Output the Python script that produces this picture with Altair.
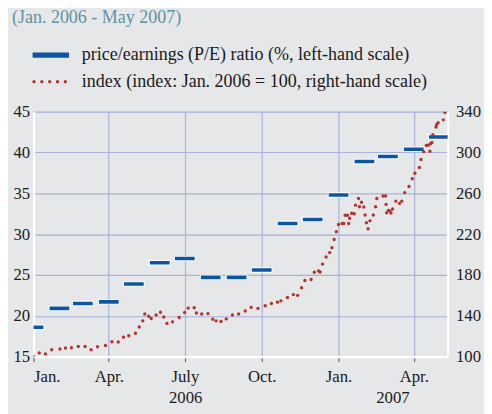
import altair as alt
import pandas as pd

# ---------------- data ----------------
subtitle = "(Jan. 2006 - May 2007)"
pe_label = "price/earnings (P/E) ratio (%, left-hand scale)"
idx_label = "index (index: Jan. 2006 = 100, right-hand scale)"

# days since 1 Jan 2006 (month starts) and monthly P/E ratio
pe_day = [0, 31, 59, 90, 120, 151, 181, 212, 243, 273, 304, 334, 365, 396, 424, 455, 485]
pe_ratio = [18.6, 20.9, 21.5, 21.7, 23.9, 26.5, 27.0, 24.7, 24.7, 25.6, 31.3, 31.8,
            34.8, 38.9, 39.5, 40.4, 41.9]

# index (Jan. 2006 = 100), days since 1 Jan 2006
index_day = [0, 6.8, 14.3, 21.7, 31.5, 38.2, 45.3, 53.5, 61.7, 68.8,
             76.6, 86.0, 93.8, 101.3, 107.6, 113.9, 122.0, 126.4, 130.7, 133.1,
             137.8, 140.8, 146.7, 151.9, 155.8, 159.6, 166.3, 174.2, 180.8, 185.1,
             192.2, 194.9, 201.2, 208.7, 214.5, 218.4, 224.3, 230.6, 238.0, 245.4,
             253.3, 260.4, 268.6, 277.2, 284.7, 291.8, 296.0, 303.9, 310.9, 316.0,
             320.7, 324.7, 332.1, 336.0, 341.1, 343.0, 345.8, 350.1, 354.4, 357.1,
             359.7, 362.3, 365.0, 369.3, 371.2, 372.9, 375.6, 377.1, 378.3, 380.6,
             383.8, 385.3, 388.9, 390.0, 392.4, 395.2, 396.7, 398.3, 400.3, 402.6,
             406.5, 409.3, 410.8, 418.2, 421.1, 421.8, 422.6, 424.6, 426.5, 427.7,
             429.7, 433.5, 437.9, 440.6, 444.1, 449.3, 453.2, 456.3, 461.7, 463.7,
             466.9, 470.0, 472.3, 474.3, 475.1, 476.7, 477.8, 481.7, 482.2, 484.1,
             490.4, 492.3]
index_value = [100, 103.6, 102.6, 106.7, 107.4, 108.4, 108.7, 109.9, 109.9, 106.7,
               109.6, 110.9, 114.5, 114.2, 119, 120.4, 122.8, 128.9, 135, 141.7,
               139.5, 137.3, 140.8, 143.4, 138.8, 132.5, 134, 138.3, 143.1, 147.5,
               147.9, 142.7, 141.7, 142.1, 136.6, 135, 134.4, 136.9, 140.8, 141.7,
               144.6, 148.2, 147.2, 149.8, 152, 153.3, 154.6, 157.8, 160.7, 160,
               167.5, 174.5, 175.5, 182.6, 183.9, 182.9, 190.6, 197.6, 201.9, 206.7,
               214.7, 222.4, 229.4, 230.4, 230.4, 238.5, 238.5, 230.4, 235.6, 240.4,
               240, 248.4, 254.9, 246.8, 251.3, 246.5, 238.8, 231.1, 225.3, 233,
               238.8, 246.8, 254.9, 257.4, 257.4, 249.1, 241, 243.3, 242.7, 240.7,
               244.6, 252.3, 250.1, 252.3, 260.7, 266.7, 274.2, 279.6, 285.4, 293.1,
               300.8, 306.9, 307.2, 301.2, 308.5, 309.8, 317.5, 324.9, 327.2, 329.1,
               332, 339.3]

tick_day = [0, 90, 181, 273, 365, 455]
tick_label = ["Jan.", "Apr.", "July", "Oct.", "Jan.", "Apr."]
year_day = [182, 430]
year_label = ["2006", "2007"]
x_end_day = 495.5

left_ticks = [15, 20, 25, 30, 35, 40, 45]
right_ticks = [100, 140, 180, 220, 260, 300, 340]

# ---------------- styles ----------------
FONT = "Liberation Serif"
TXT = "#1a1a1a"
BLUE = "#0b55a3"
RED = "#b3332e"
GRID = "#a9b2d9"
BG = "#e6e7e8"
TEAL = "#5e93a3"
AX_FS = 17
LEG_FS = 18.3
W, H = 421, 249

pe_df = pd.DataFrame({"day": pe_day, "pe": pe_ratio})
idx_df = pd.DataFrame({"day": index_day, "value": index_value})
year_df = pd.DataFrame({"day": year_day, "label": year_label})
leg_df = pd.DataFrame({"series": [pe_label, idx_label]})

label_expr = "".join(
    f"datum.value == {d} ? '{l}' : " for d, l in zip(tick_day, tick_label)
) + "''"

x_axis = alt.Axis(values=tick_day, labelExpr=label_expr, title=None, grid=True,
                  ticks=True, tickSize=5, tickColor="#555555", tickWidth=1,
                  labelPadding=7)
x_scale = alt.Scale(domain=[0, x_end_day], nice=False, zero=False)


def xenc(field):
    return alt.X(f"{field}:Q", scale=x_scale, axis=x_axis)


y_left = alt.Y("pe:Q", scale=alt.Scale(domain=[15, 45], nice=False, zero=False),
               axis=alt.Axis(values=left_ticks, orient="left", title=None, grid=True,
                             ticks=False, labelPadding=4))
y_right = alt.Y("value:Q", scale=alt.Scale(domain=[100, 340], nice=False, zero=False),
                axis=alt.Axis(values=right_ticks, orient="right", title=None, grid=False,
                              ticks=False, labelPadding=8))

pe_base = alt.Chart(pe_df).transform_calculate(
    start="datum.day - 11.8", end="datum.day + 11.8",
    start_w="datum.day - 13", end_w="datum.day + 13")

pe_white = pe_base.mark_rule(color="white", strokeWidth=5.5, clip=True).encode(
    x=xenc("start_w"), x2="end_w:Q", y=y_left)
pe_blue = pe_base.mark_rule(color=BLUE, strokeWidth=3.6, clip=True).encode(
    x=xenc("start"), x2="end:Q", y=y_left)
pe_layer = alt.layer(pe_white, pe_blue)

idx_layer = alt.Chart(idx_df).mark_circle(size=12, color=RED, opacity=1, clip=True).encode(
    x=xenc("day"), y=y_right)

years = alt.Chart(year_df).mark_text(font=FONT, fontSize=AX_FS, color=TXT,
                                     baseline="middle").encode(
    x=xenc("day"), y=alt.value(H + 42), text="label:N")

# legend symbols (custom paths: solid bar and a row of dots)
bar_path = "M-1,-0.14H1V0.14H-1Z"
r = 0.09
dots_path = "".join(
    f"M{cx - r:.3f},0a{r},{r} 0 1,0 {2 * r},0a{r},{r} 0 1,0 {-2 * r},0Z"
    for cx in [-0.92, -0.49, -0.06, 0.37, 0.80]
)
legend = alt.Legend(title=None, orient="none", legendX=-1, legendY=-76,
                    direction="vertical", symbolSize=1369, symbolStrokeWidth=0,
                    symbolOpacity=1, labelFont=FONT, labelFontSize=LEG_FS,
                    labelColor=TXT, labelOffset=13, labelLimit=440, padding=0,
                    rowPadding=-19)
leg_layer = alt.Chart(leg_df).mark_point(filled=True, opacity=0).encode(
    color=alt.Color("series:N", scale=alt.Scale(domain=[pe_label, idx_label],
                                                range=[BLUE, RED]), legend=legend),
    shape=alt.Shape("series:N", scale=alt.Scale(domain=[pe_label, idx_label],
                                                range=[bar_path, dots_path]), legend=legend),
)

chart = alt.layer(pe_layer, idx_layer, years, leg_layer).resolve_scale(
    y="independent"
).properties(
    width=W, height=H,
    title=alt.TitleParams(subtitle, anchor="start", frame="group", font=FONT,
                          fontSize=LEG_FS, fontWeight="normal", color=TEAL,
                          dx=-22, offset=10),
    autosize=alt.AutoSizeParams(type="none"),
    padding={"left": 26, "top": 102, "right": 37, "bottom": 55},
    background=BG,
).configure_view(
    strokeOpacity=0
).configure_axis(
    labelFont=FONT, labelFontSize=AX_FS, labelColor=TXT,
    gridColor=GRID, gridWidth=1.2, gridOpacity=1,
    domainColor="#ffffff", domainWidth=2.2,
)

chart.save("out.html", embed_options={"renderer": "svg", "actions": False})
